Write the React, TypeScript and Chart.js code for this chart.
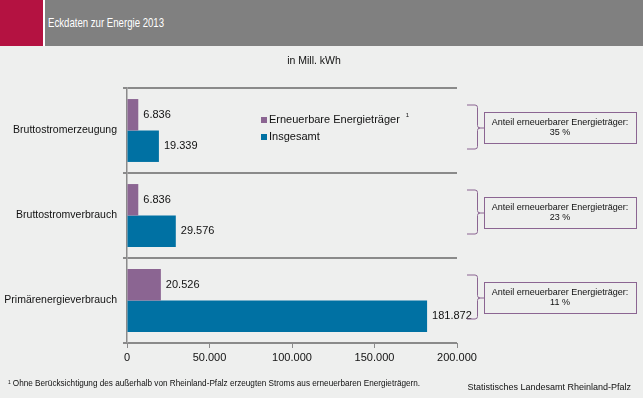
import React, { useEffect, useRef } from "react";
import { Chart, registerables } from "chart.js";

Chart.register(...registerables);

const categories = ["Bruttostromerzeugung", "Bruttostromverbrauch", "Primärenergieverbrauch"];
const renewable = [6836, 6836, 20526];
const total = [19339, 29576, 181872];
const shares = [35, 23, 11];
const seriesNames = ["Erneuerbare Energieträger", "Insgesamt"];
const xTicks = [0, 50000, 100000, 150000, 200000];

const FONT = '"Liberation Sans", Arial, sans-serif';
const BG = "#EEEFEE";
const PURPLE = "#8B6592";
const BLUE = "#0071A3";

const fmt = (v: number) => String(Math.round(v)).replace(/\B(?=(\d{3})+(?!\d))/g, ".");

const annotPlugin = {
  id: "annot",
  afterDatasetsDraw(chart: any) {
    const ctx = chart.ctx;
    ctx.save();
    // data labels
    ctx.font = `11px ${FONT}`;
    ctx.fillStyle = "#111";
    ctx.textBaseline = "middle";
    ctx.textAlign = "left";
    chart.data.datasets.forEach((ds: any, di: number) => {
      const meta = chart.getDatasetMeta(di);
      meta.data.forEach((el: any, i: number) => {
        ctx.fillText(fmt(ds.data[i]), el.x + 5, el.y);
      });
    });
    // braces and boxes
    const yScale = chart.scales.y;
    const right = chart.chartArea.right;
    const x0 = right + 10;
    const x1 = right + 20;
    const bx = right + 27;
    const bw = 152;
    const bh = 31;
    categories.forEach((_, i) => {
      const c = yScale.getPixelForValue(i);
      const top = c - 26;
      const bot = c + 18;
      const mid = c - 3;
      ctx.strokeStyle = PURPLE;
      ctx.lineWidth = 1;
      ctx.beginPath();
      ctx.moveTo(x0, top + 0.5);
      ctx.lineTo(x1 - 2, top + 0.5);
      ctx.quadraticCurveTo(x1 + 0.5, top + 0.5, x1 + 0.5, top + 3);
      ctx.lineTo(x1 + 0.5, mid - 2);
      ctx.quadraticCurveTo(x1 + 0.5, mid + 0.5, x1 + 3, mid + 0.5);
      ctx.lineTo(bx, mid + 0.5);
      ctx.moveTo(x1 + 3, mid + 0.5);
      ctx.quadraticCurveTo(x1 + 0.5, mid + 0.5, x1 + 0.5, mid + 3);
      ctx.lineTo(x1 + 0.5, bot - 2);
      ctx.quadraticCurveTo(x1 + 0.5, bot + 0.5, x1 - 2, bot + 0.5);
      ctx.lineTo(x0, bot + 0.5);
      ctx.stroke();
      ctx.fillStyle = BG;
      ctx.fillRect(bx, mid - bh / 2, bw, bh);
      ctx.strokeRect(bx + 0.5, Math.round(mid - bh / 2) + 0.5, bw, bh);
      ctx.fillStyle = "#111";
      ctx.font = `9px ${FONT}`;
      ctx.textAlign = "center";
      ctx.fillText("Anteil erneuerbarer Energieträger:", bx + bw / 2, mid - 5);
      ctx.fillText(`${shares[i]} %`, bx + bw / 2, mid + 5);
      ctx.textAlign = "left";
    });
    ctx.restore();
  },
};

export default function App() {
  const ref = useRef<HTMLCanvasElement>(null);
  useEffect(() => {
    document.body.style.margin = "0";
    const chart = new Chart(ref.current as HTMLCanvasElement, {
      type: "bar",
      data: {
        labels: categories,
        datasets: [
          { label: seriesNames[0], data: renewable, backgroundColor: PURPLE, categoryPercentage: 0.74, barPercentage: 1 },
          { label: seriesNames[1], data: total, backgroundColor: BLUE, categoryPercentage: 0.74, barPercentage: 1 },
        ],
      },
      options: {
        indexAxis: "y",
        animation: false,
        responsive: false,
        devicePixelRatio: 1,
        layout: { padding: { left: 0, top: 88, right: 186, bottom: 0 } },
        plugins: { legend: { display: false }, tooltip: { enabled: false } },
        scales: {
          x: {
            min: 0,
            max: 200000,
            afterFit: (s: any) => { s.height = 55; },
            afterBuildTicks: (s: any) => { s.ticks = xTicks.map((v) => ({ value: v })); },
            ticks: { font: { family: FONT, size: 11 }, color: "#111", padding: 3, maxRotation: 0, callback: (v: any) => fmt(Number(v)) },
            grid: { drawOnChartArea: false, drawTicks: true, tickLength: 5, color: "#8a8a8a", lineWidth: 1 },
            border: { color: "#8a8a8a", width: 1 },
          },
          y: {
            afterFit: (s: any) => { s.width = 127; },
            ticks: { font: { family: FONT, size: 10.5 }, color: "#111", padding: 6 },
            grid: { offset: true, drawOnChartArea: true, tickLength: 4, color: "#8a8a8a", lineWidth: 2 },
            border: { color: "#8a8a8a", width: 1.5 },
          },
        },
      },
      plugins: [annotPlugin],
    } as any);
    return () => chart.destroy();
  }, []);

  return (
    <div style={{ position: "fixed", left: 0, top: 0, width: 643, height: 398, background: BG, fontFamily: FONT, overflow: "hidden" }}>
      <div style={{ position: "absolute", left: 0, top: 0, width: 43, height: 46, background: "#B41241" }} />
      <div style={{ position: "absolute", left: 43, top: 0, width: 2, height: 46, background: "#fff" }} />
      <div style={{ position: "absolute", left: 45, top: 0, width: 598, height: 46, background: "#808080" }} />
      <div style={{ position: "absolute", left: 48, top: 14, fontSize: 13, color: "#fff", lineHeight: "18px", whiteSpace: "nowrap", transform: "scaleX(0.74)", transformOrigin: "left center" }}>Eckdaten zur Energie 2013</div>
      <canvas ref={ref} width={643} height={398} style={{ position: "absolute", left: 0, top: 0, width: 643, height: 398 }} />
      <div style={{ position: "absolute", left: 0, width: 628, top: 53, textAlign: "center", fontSize: 10.5, color: "#111", lineHeight: "14px" }}>in Mill. kWh</div>
      <div style={{ position: "absolute", left: 261, top: 111, fontSize: 11, color: "#111", lineHeight: "16px", whiteSpace: "nowrap" }}>
        <span style={{ display: "inline-block", width: 6, height: 6, background: PURPLE, marginRight: 2 }} />
        {seriesNames[0]}
        <span style={{ fontSize: 6, position: "relative", top: -6, marginLeft: 6 }}>1</span>
      </div>
      <div style={{ position: "absolute", left: 261, top: 128, fontSize: 11, color: "#111", lineHeight: "16px", whiteSpace: "nowrap" }}>
        <span style={{ display: "inline-block", width: 6, height: 6, background: BLUE, marginRight: 2 }} />
        {seriesNames[1]}
      </div>
      <div style={{ position: "absolute", left: 8, top: 379, fontSize: 8.2, color: "#111", lineHeight: "10px", whiteSpace: "nowrap" }}>
        <span style={{ fontSize: 5, position: "relative", top: -2, marginRight: 2 }}>1</span>
        Ohne Berücksichtigung des außerhalb von Rheinland-Pfalz erzeugten Stroms aus erneuerbaren Energieträgern.
      </div>
      <div style={{ position: "absolute", right: 12, top: 381, fontSize: 9, color: "#111", lineHeight: "12px", whiteSpace: "nowrap" }}>Statistisches Landesamt Rheinland-Pfalz</div>
    </div>
  );
}
